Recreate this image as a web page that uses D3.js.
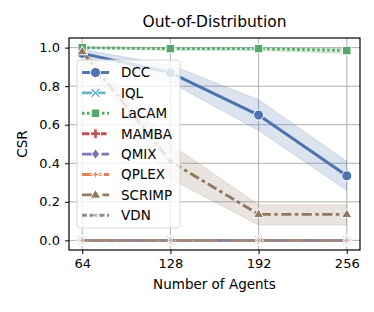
<!DOCTYPE html>
<html>
<head>
<meta charset="utf-8">
<script src="https://cdn.jsdelivr.net/npm/d3@7"></script>
<style>
  body { margin: 0; background: #fff; }
  text { font-family: "DejaVu Sans", sans-serif; fill: #000; }
</style>
</head>
<body>
<div id="chart"></div>
<script>
// data
var agents = [64, 128, 192, 256];
var methods = ["DCC", "IQL", "LaCAM", "MAMBA", "QMIX", "QPLEX", "SCRIMP", "VDN"];
var dccMean = [0.97, 0.87, 0.65, 0.335];
var dccLow = [0.95, 0.82, 0.57, 0.26];
var dccHigh = [0.99, 0.91, 0.73, 0.41];
var lacamMean = [1.0, 0.995, 0.995, 0.985];
var lacamLow = [0.995, 0.985, 0.985, 0.97];
var lacamHigh = [1.0, 1.0, 1.0, 0.995];
var scrimpMean = [0.98, 0.41, 0.135, 0.135];
var scrimpLow = [0.96, 0.32, 0.08, 0.08];
var scrimpHigh = [1.0, 0.5, 0.185, 0.185];
var zeros = [0, 0, 0, 0];
var yTicks = [0.0, 0.2, 0.4, 0.6, 0.8, 1.0];

var colors = {
  DCC: "#4C72B0", IQL: "#64B5CD", LaCAM: "#55A868", MAMBA: "#C44E52",
  QMIX: "#8172B3", QPLEX: "#DD8452", SCRIMP: "#937860", VDN: "#8C8C8C"
};
var dashes = {
  DCC: null, IQL: "10,3.5", LaCAM: "2.5,2.5", MAMBA: "7.5,3,3.5,3",
  QMIX: "12,2.5,2.5,2.5", QPLEX: "12,2.5,5,2.5,5,2.5", SCRIMP: "10,3.5,3.5,3.5", VDN: "5,2.5,8,2"
};
var markers = {
  DCC: "circle", IQL: "X", LaCAM: "square", MAMBA: "P",
  QMIX: "diamond", QPLEX: "star4", SCRIMP: "triangle", VDN: "star4x"
};

var series = [
  { name: "DCC", mean: dccMean, low: dccLow, high: dccHigh },
  { name: "IQL", mean: zeros },
  { name: "LaCAM", mean: lacamMean, low: lacamLow, high: lacamHigh },
  { name: "MAMBA", mean: zeros },
  { name: "QMIX", mean: zeros },
  { name: "QPLEX", mean: zeros },
  { name: "SCRIMP", mean: scrimpMean, low: scrimpLow, high: scrimpHigh },
  { name: "VDN", mean: zeros }
];

var width = 374, height = 312;
var margin = { top: 38, right: 14, bottom: 62, left: 69 };

var svg = d3.select("#chart").append("svg").attr("width", width).attr("height", height);

// 5% padding on both axes, like matplotlib
var x = d3.scaleLinear().domain([54.4, 265.6]).range([margin.left, width - margin.right]);
var y = d3.scaleLinear().domain([-0.05, 1.05]).range([height - margin.bottom, margin.top]);

var plotW = width - margin.left - margin.right;
var plotH = height - margin.top - margin.bottom;

// grid
svg.append("g").selectAll("line.vg").data(agents).enter().append("line")
  .attr("x1", d => x(d)).attr("x2", d => x(d))
  .attr("y1", margin.top).attr("y2", height - margin.bottom)
  .style("stroke", "#b0b0b0").style("stroke-width", 1);
svg.append("g").selectAll("line.hg").data(yTicks).enter().append("line")
  .attr("x1", margin.left).attr("x2", width - margin.right)
  .attr("y1", d => y(d)).attr("y2", d => y(d))
  .style("stroke", "#b0b0b0").style("stroke-width", 1);

// bands
var area = d3.area().x((d, i) => x(agents[i])).y0(d => y(d[0])).y1(d => y(d[1]));
series.filter(s => s.low).forEach(function (s) {
  svg.append("path")
    .datum(s.low.map((v, i) => [v, s.high[i]]))
    .attr("d", area)
    .style("fill", colors[s.name]).style("fill-opacity", 0.2)
    .style("stroke", colors[s.name]).style("stroke-opacity", 0.2);
});

function markerPath(type, r) {
  if (type === "circle") return d3.symbol(d3.symbolCircle, Math.PI * r * r)();
  if (type === "square") { var a = r * 0.85; return `M${-a},${-a}H${a}V${a}H${-a}Z`; }
  if (type === "diamond") { var a = r * 1.05; return `M0,${-a}L${a * 0.75},0L0,${a}L${-a * 0.75},0Z`; }
  if (type === "triangle") { var a = r * 1.1; return `M0,${-a}L${a * 0.95},${a * 0.6}L${-a * 0.95},${a * 0.6}Z`; }
  if (type === "P") { var a = r, b = r * 0.35; return `M${-b},${-a}H${b}V${-b}H${a}V${b}H${b}V${a}H${-b}V${b}H${-a}V${-b}H${-b}Z`; }
  if (type === "X") { var a = r * 0.95, b = r * 0.3; return `M${-a},${-a + b}L${-a + b},${-a}L0,${-b}L${a - b},${-a}L${a},${-a + b}L${b},0L${a},${a - b}L${a - b},${a}L0,${b}L${-a + b},${a}L${-a},${a - b}L${-b},0Z`; }
  if (type === "star4") { var a = r, b = r * 0.22; return `M0,${-a}L${b},${-b}L${a},0L${b},${b}L0,${a}L${-b},${b}L${-a},0L${-b},${-b}Z`; }
  if (type === "star4x") { var a = r * 0.8, b = r * 0.22; return `M${-a},${-a}L0,${-b}L${a},${-a}L${b},0L${a},${a}L0,${b}L${-a},${a}L${-b},0Z`; }
}

var line = d3.line().x((d, i) => x(agents[i])).y(d => y(d));

series.forEach(function (s) {
  svg.append("path").datum(s.mean).attr("d", line)
    .style("fill", "none").style("stroke", colors[s.name]).style("stroke-width", 2.9)
    .style("stroke-dasharray", dashes[s.name]);
  svg.append("g").selectAll("path.m").data(s.mean).enter().append("path")
    .attr("transform", (d, i) => `translate(${x(agents[i])},${y(d)})`)
    .attr("d", markerPath(markers[s.name], 5))
    .style("fill", colors[s.name]).style("stroke", "#fff").style("stroke-width", 1);
});

// spines
svg.append("rect").attr("x", margin.left).attr("y", margin.top).attr("width", plotW).attr("height", plotH)
  .style("fill", "none").style("stroke", "#000").style("stroke-width", 1.2);

// axes
var xAxis = d3.axisBottom(x).tickValues(agents).tickSize(4).tickPadding(5);
var gx = svg.append("g").attr("transform", `translate(0,${height - margin.bottom})`).call(xAxis);
var yAxis = d3.axisLeft(y).tickValues(yTicks).tickSize(4).tickPadding(5).tickFormat(d3.format(".1f"));
var gy = svg.append("g").attr("transform", `translate(${margin.left},0)`).call(yAxis);
[gx, gy].forEach(function (g) {
  g.select(".domain").remove();
  g.selectAll(".tick line").style("stroke", "#000").style("stroke-width", 1);
  g.selectAll(".tick text").style("font-family", "DejaVu Sans").style("font-size", "13px").style("fill", "#000");
});

svg.append("text").attr("x", (margin.left + width - margin.right) / 2).attr("y", 289)
  .style("text-anchor", "middle").style("font-size", "13.5px").text("Number of Agents");
svg.append("text").attr("transform", `translate(27,${(margin.top + height - margin.bottom) / 2}) rotate(-90)`)
  .style("text-anchor", "middle").style("font-size", "13.5px").text("CSR");
svg.append("text").attr("x", (margin.left + width - margin.right) / 2).attr("y", 27)
  .style("text-anchor", "middle").style("font-size", "15.5px").text("Out-of-Distribution");

// legend
var lg = svg.append("g");
lg.append("rect").attr("x", 77).attr("y", 60).attr("width", 103).attr("height", 168).attr("rx", 3)
  .style("fill", "#fff").style("fill-opacity", 0.8).style("stroke", "#d6d6d6").style("stroke-width", 1);
var item = lg.selectAll("g.item").data(methods).enter().append("g")
  .attr("transform", (d, i) => `translate(0,${72.5 + i * 20.4})`);
item.append("line").attr("x1", 82).attr("x2", 109).attr("y1", 0).attr("y2", 0)
  .style("stroke", d => colors[d]).style("stroke-width", 2.9).style("stroke-dasharray", d => dashes[d]);
item.append("path").attr("transform", "translate(95.5,0)").attr("d", d => markerPath(markers[d], 5))
  .style("fill", d => colors[d]).style("stroke", "#fff").style("stroke-width", 1);
item.append("text").attr("x", 121).attr("y", 0).attr("dy", "0.36em").style("font-size", "13.5px").text(d => d);
</script>
</body>
</html>
